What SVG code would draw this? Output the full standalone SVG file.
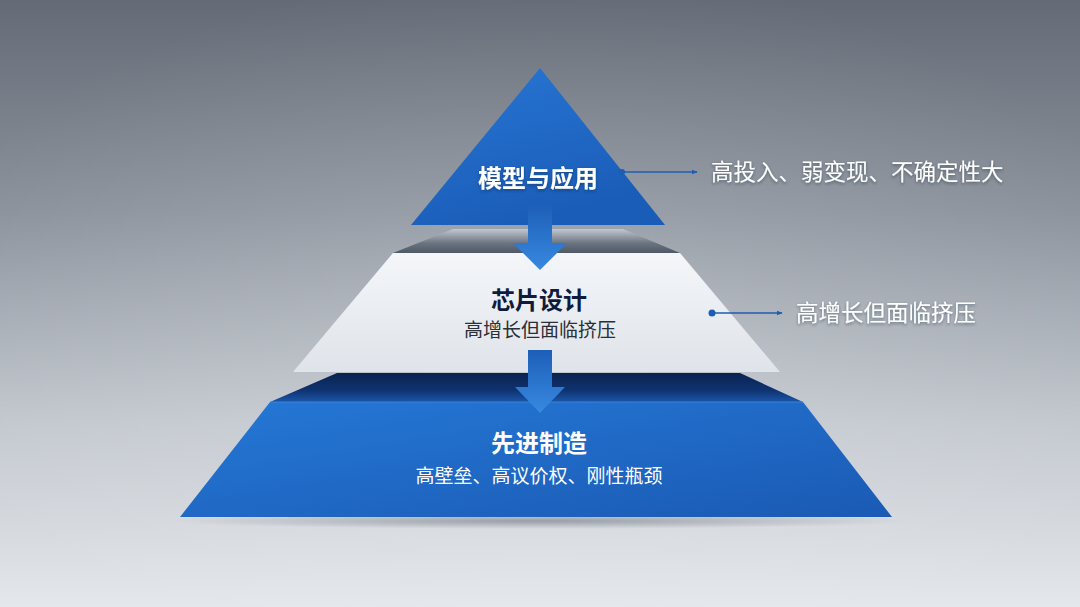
<svg xmlns="http://www.w3.org/2000/svg" width="1080" height="607" viewBox="0 0 1080 607">
<defs>
<style>
.t{font-family:"Noto Sans CJK SC","Noto Sans",sans-serif;text-anchor:middle}
.title{font-size:24px;font-weight:700}
.sub{font-size:19px}
.side{font-family:"Noto Sans CJK SC","Noto Sans",sans-serif;font-size:22.5px;fill:#ffffff}
.lead{stroke:#1d5eb2;stroke-width:1.6;fill:none}
.dot{fill:#1d5eb2}
</style>
<filter id="ts" x="-10%" y="-30%" width="120%" height="160%">
<feDropShadow dx="0" dy="1.5" stdDeviation="1.5" flood-color="#1a2230" flood-opacity="0.45"/>
</filter>
<linearGradient id="bg" x1="0" y1="0" x2="0" y2="1">
<stop offset="0" stop-color="#646b76"/>
<stop offset="0.35" stop-color="#8b929c"/>
<stop offset="0.7" stop-color="#c3c8cf"/>
<stop offset="1" stop-color="#e4e7eb"/>
</linearGradient>
<radialGradient id="bgglow" cx="0.5" cy="0.55" r="0.6">
<stop offset="0" stop-color="#ffffff" stop-opacity="0.18"/>
<stop offset="1" stop-color="#ffffff" stop-opacity="0"/>
</radialGradient>
<linearGradient id="triG" x1="0" y1="0" x2="0.4" y2="1">
<stop offset="0" stop-color="#2876d4"/>
<stop offset="1" stop-color="#1a5db8"/>
</linearGradient>
<linearGradient id="midTop" x1="0" y1="0" x2="0" y2="1">
<stop offset="0" stop-color="#c2c8d0"/>
<stop offset="0.6" stop-color="#6a7380"/>
<stop offset="1" stop-color="#4f5966"/>
</linearGradient>
<linearGradient id="midFront" x1="0" y1="0" x2="0" y2="1">
<stop offset="0" stop-color="#f4f6f9"/>
<stop offset="1" stop-color="#dfe4ea"/>
</linearGradient>
<linearGradient id="botTop" x1="0" y1="0" x2="0" y2="1">
<stop offset="0" stop-color="#0a2350"/>
<stop offset="0.6" stop-color="#0f3370"/>
<stop offset="1" stop-color="#1b56aa"/>
</linearGradient>
<linearGradient id="botFront" x1="0" y1="0" x2="1" y2="1">
<stop offset="0" stop-color="#2578d6"/>
<stop offset="1" stop-color="#1a5ab4"/>
</linearGradient>
<linearGradient id="arr" x1="0" y1="0" x2="0" y2="1">
<stop offset="0" stop-color="#1d5fb8"/>
<stop offset="1" stop-color="#3889e0"/>
</linearGradient>
<radialGradient id="shadow" cx="0.5" cy="0.5" r="0.5">
<stop offset="0" stop-color="#4a5160" stop-opacity="0.45"/>
<stop offset="1" stop-color="#4a5160" stop-opacity="0"/>
</radialGradient>
<marker id="ah" viewBox="0 0 10 10" refX="9" refY="5" markerWidth="6" markerHeight="6" orient="auto" markerUnits="userSpaceOnUse">
<path d="M0,1 L10,5 L0,9 Z" fill="#1d5eb2"/>
</marker>
</defs>

<rect width="1080" height="607" fill="url(#bg)"/>
<rect width="1080" height="607" fill="url(#bgglow)"/>

<ellipse cx="538" cy="521" rx="370" ry="8" fill="url(#shadow)"/>

<g id="node-bottom">
<polygon points="337,373 740,373 803,402 270,402" fill="url(#botTop)"/>
<polygon points="270,402 803,402 892,517 180,517" fill="url(#botFront)"/>
<line x1="270" y1="402" x2="803" y2="402" stroke="#4a90e2" stroke-width="1.2" stroke-opacity="0.7"/>
<text class="t title" x="539" y="452" fill="#ffffff">先进制造</text>
<text class="t sub" x="539" y="483" fill="#ffffff">高壁垒、高议价权、刚性瓶颈</text>
</g>

<g id="node-middle">
<polygon points="453,229 623,229 680,253 393,253" fill="url(#midTop)"/>
<polygon points="393,253 680,253 780,372 293,372" fill="url(#midFront)"/>
<text class="t title" x="539" y="309" fill="#0f1b3d">芯片设计</text>
<text class="t sub" x="540" y="337" fill="#2a2f38">高增长但面临挤压</text>
</g>

<g id="node-top">
<polygon points="540,68 665,225 411,225" fill="url(#triG)"/>
<text class="t title" x="538" y="187" fill="#ffffff" filter="url(#ts)">模型与应用</text>
</g>

<g id="connectors">
<polygon points="528,205 552,205 552,243 567,243 540,270 513,243 528,243" fill="url(#arr)"/>
<polygon points="528,350 552,350 552,387 565,387 540,413 515,387 528,387" fill="url(#arr)"/>
<circle class="dot" cx="622" cy="172" r="3"/>
<line class="lead" x1="622" y1="172" x2="697" y2="172" marker-end="url(#ah)"/>
<circle class="dot" cx="712" cy="313" r="3.5"/>
<line class="lead" x1="712" y1="313" x2="782" y2="313" marker-end="url(#ah)"/>
</g>

<g id="labels">
<text class="side" x="711" y="180" filter="url(#ts)">高投入、弱变现、不确定性大</text>
<text class="side" x="796" y="321" filter="url(#ts)">高增长但面临挤压</text>
</g>
</svg>
